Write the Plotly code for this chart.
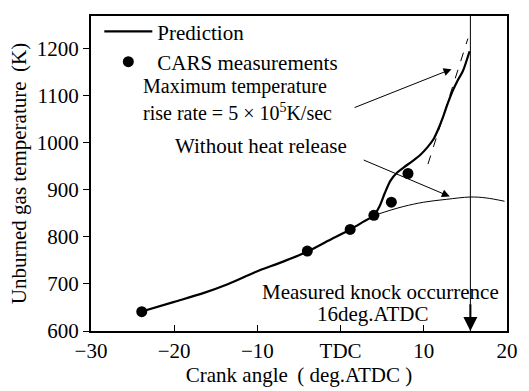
import plotly.graph_objects as go

# Prediction curve (crank angle deg ATDC, unburned gas temperature K)
pred_x = [-24.0, -20.0, -16.6, -13.5, -10.3, -7.0, -4.1, -1.5, 1.15, 2.6, 4.0, 4.7, 5.3, 6.0, 6.8, 7.6, 8.6, 9.6, 10.4, 11.2, 11.8, 12.35, 12.9, 13.5, 14.1, 14.7, 15.5]
pred_y = [641, 662, 680, 700, 725, 747, 768, 792, 816, 831, 846, 866, 893, 920, 937, 948, 961, 975, 990, 1009, 1032, 1057, 1085, 1112, 1134, 1153, 1195]

# CARS measurements
cars_x = [-23.9, -4.0, 1.15, 4.0, 6.1, 8.1]
cars_y = [641, 770, 816, 846, 874, 935]

# Without heat release
nohr_x = [4.4, 6.0, 7.6, 10.0, 12.7, 15.6, 17.5, 19.7]
nohr_y = [848, 857, 865, 874, 880, 885, 883, 876]

# Tangent (max temperature rise rate)
tan_x = [10.5, 15.3]
tan_y = [955, 1222]

knock_x = 15.6

xtick_vals = [-30, -20, -10, 0, 10, 20]
xtick_text = ["\u221230", "\u221220", "\u221210", "TDC", "10", "20"]
ytick_vals = [600, 700, 800, 900, 1000, 1100, 1200]

FONT = "Liberation Serif"
FS = 21

fig = go.Figure()
fig.add_trace(go.Scatter(x=nohr_x, y=nohr_y, mode="lines", line=dict(color="black", width=1, shape="spline"),
                         showlegend=False))
fig.add_trace(go.Scatter(x=tan_x, y=tan_y, mode="lines", line=dict(color="black", width=1, dash="dash"),
                         showlegend=False))
fig.add_trace(go.Scatter(x=pred_x, y=pred_y, mode="lines", name="Prediction",
                         line=dict(color="black", width=2.2, shape="spline", smoothing=0.8)))
fig.add_trace(go.Scatter(x=cars_x, y=cars_y, mode="markers", name="CARS measurements",
                         marker=dict(color="black", size=11)))

# vertical knock line
fig.add_shape(type="line", x0=knock_x, x1=knock_x, y0=600, y1=1270, xref="x", yref="y",
              line=dict(color="black", width=1))

ann = []
def arrow(x, y, ax, ay, size=1.6, width=1):
    ann.append(dict(x=x, y=y, ax=ax, ay=ay, xref="x", yref="y", axref="x", ayref="y",
                    showarrow=True, arrowhead=2, arrowsize=size, arrowwidth=width, arrowcolor="black", text=""))

arrow(13.33, 1157, 1.5, 1074)
arrow(13.13, 886, 2.6, 965)
arrow(knock_x, 600, knock_x, 660, size=1.4, width=2)

def text(x, y, s, anchor="left", size=FS):
    ann.append(dict(x=x, y=y, xref="x", yref="y", text=s, showarrow=False, xanchor=anchor,
                    yanchor="middle", font=dict(family=FONT, size=size, color="black")))

text(-24.0, 1120, "Maximum temperature", size=20)
text(-24.0, 1066, "rise rate = 5 \u00d7 10<sup>5</sup>K/sec", size=20)
text(-20.2, 994, "Without heat release")
text(19.3, 682, "Measured knock occurrence", anchor="right")
text(3.8, 637, "16deg.ATDC", anchor="center")

fig.update_layout(
    width=529, height=391,
    margin=dict(l=91, r=18, t=11, b=55),
    paper_bgcolor="white", plot_bgcolor="white",
    font=dict(family=FONT, size=FS, color="black"),
    annotations=ann,
    showlegend=True,
    legend=dict(x=0.02, y=1.015, xanchor="left", yanchor="top", bgcolor="rgba(0,0,0,0)",
                font=dict(family=FONT, size=FS), itemwidth=48, tracegroupgap=0),
    xaxis=dict(range=[-30, 20], tickvals=xtick_vals, ticktext=xtick_text, ticks="inside", ticklen=6,
               tickcolor="black", showline=True, linecolor="black", linewidth=2, mirror=True,
               showgrid=False, zeroline=False,
               title=dict(text="Crank angle \u2009( deg.ATDC )", font=dict(family=FONT, size=FS), standoff=2)),
    yaxis=dict(range=[600, 1270], tickvals=ytick_vals, ticks="outside", ticklen=6,
               tickcolor="black", showline=True, linecolor="black", linewidth=2, mirror=True,
               showgrid=False, zeroline=False,
               title=dict(text="Unburned gas temperature \u2009(K)", font=dict(family=FONT, size=FS), standoff=4)),
)

fig.write_html("out.html")
